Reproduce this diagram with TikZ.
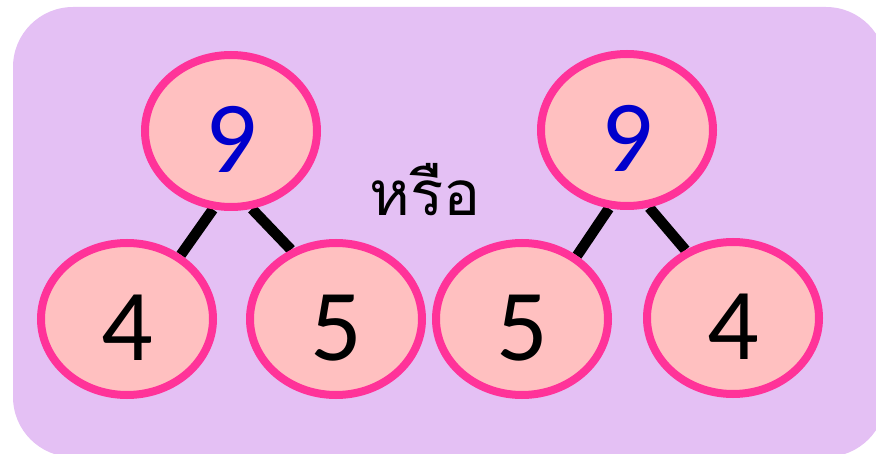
\documentclass[tikz,border=0pt]{standalone}
\usepackage{fontspec}
\newfontfamily\thaifont[Script=Thai]{Loma}
\newfontfamily\digitfont{Carlito}
\usetikzlibrary{shapes.geometric,backgrounds}
\definecolor{panel}{HTML}{E4C0F4}
\definecolor{bubblefill}{HTML}{FFC0C0}
\definecolor{bubbleline}{HTML}{FF3399}
\definecolor{topblue}{HTML}{0000CC}

\begin{document}
\begin{tikzpicture}[x=1pt,y=-1pt,
        bubble/.style={ellipse,draw=bubbleline,fill=bubblefill,line width=8pt,
            minimum width=172pt,minimum height=152pt,inner sep=0pt,
            font=\digitfont\fontsize{102}{102}\selectfont,text height=84pt,text depth=0pt},
        twig/.style={line width=10.5pt}]
        \useasboundingbox (0,0) rectangle (876,454);
        % Left tree
        \node[bubble,text=topblue] (topL) at (231,131) {9};
        \node[bubble] (leftL) at (127,319) {4};
        \node[bubble] (rightL) at (336,319) {5};
        % Right tree
        \node[bubble,text=topblue] (topR) at (627,130) {9};
        \node[bubble] (leftR) at (522,319) {5};
        \node[bubble] (rightR) at (733,318) {4};
        % Word between the trees
        \node[font=\thaifont\fontsize{62}{62}\selectfont] (or) at (425,190) {หรือ};
        \begin{pgfonlayer}{background}
            \fill[panel,rounded corners=60pt] (13,7) rectangle (886,457); % Panel
            \draw[twig] (topL.257) -- (leftL.50);
            \draw[twig] (topL.285) -- (rightL.123);
            \draw[twig] (topR.257) -- (leftR.49);
            \draw[twig] (topR.286) -- (rightR.125);
        \end{pgfonlayer}
    \end{tikzpicture}
\end{document}
